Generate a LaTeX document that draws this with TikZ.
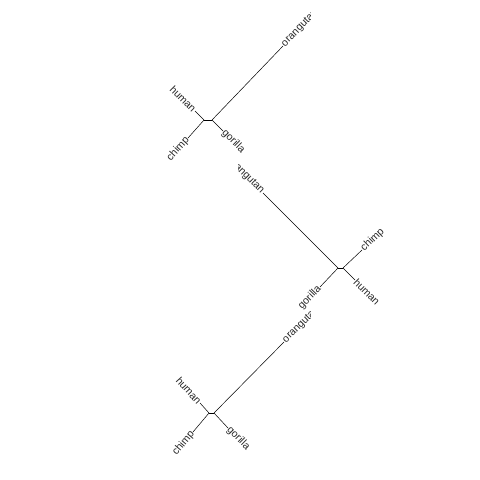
\documentclass[tikz,border=0pt]{standalone}
\usepackage{fontspec}
\setmainfont{Liberation Sans}

\begin{document}
\begin{tikzpicture}[x=1bp,y=-1bp,line width=0.5bp]
\tikzstyle{tiplabel}=[inner sep=0.5bp,font=\fontsize{10.5}{12}\selectfont,text=black!85]
\useasboundingbox (0,0) rectangle (480,480);

% first tree
\coordinate (a1) at (204,120);
\coordinate (b1) at (212,120);
\coordinate (hu1) at (195,111);
\coordinate (ch1) at (188,138);
\coordinate (go1) at (223,131);
\coordinate (or1) at (283,46);
\node[tiplabel, rotate=-45, anchor=east] (lhu1) at (hu1) {human};
\node[tiplabel, rotate=48, anchor=east] (lch1) at (ch1) {chimp};
\node[tiplabel, rotate=-45, anchor=west] (lgo1) at (go1) {gorilla};
\begin{scope}
\clip (0,0) rectangle (310,480);
\node[tiplabel, rotate=46, anchor=west] (lor1) at (or1) {orangutan};
\end{scope}
\path[draw] (a1) edge (b1);
\path[draw] (a1) edge (hu1);
\path[draw] (a1) edge (ch1);
\path[draw] (b1) edge (go1);
\path[draw] (b1) edge (or1);

% second tree
\coordinate (a2) at (338,268);
\coordinate (b2) at (343,268);
\coordinate (or2) at (263,193);
\coordinate (go2) at (320,287);
\coordinate (ch2) at (362,250);
\coordinate (hu2) at (355,280);
\begin{scope}
\clip (238,0) rectangle (480,480);
\node[tiplabel, rotate=-45, anchor=east] (lor2) at (or2) {orangutan};
\end{scope}
\node[tiplabel, rotate=46, anchor=east] (lgo2) at (go2) {gorilla};
\node[tiplabel, rotate=44, anchor=west] (lch2) at (ch2) {chimp};
\node[tiplabel, rotate=-45, anchor=west] (lhu2) at (hu2) {human};
\path[draw] (a2) edge (b2);
\path[draw] (a2) edge (or2);
\path[draw] (a2) edge (go2);
\path[draw] (b2) edge (ch2);
\path[draw] (b2) edge (hu2);

% third tree
\coordinate (a3) at (209,413);
\coordinate (b3) at (214,413);
\coordinate (hu3) at (200,403);
\coordinate (ch3) at (193,432);
\coordinate (go3) at (228,428);
\coordinate (or3) at (284,342);
\node[tiplabel, rotate=-48, anchor=east] (lhu3) at (hu3) {human};
\node[tiplabel, rotate=50, anchor=east] (lch3) at (ch3) {chimp};
\node[tiplabel, rotate=-45, anchor=west] (lgo3) at (go3) {gorilla};
\begin{scope}
\clip (0,0) rectangle (310,480);
\node[tiplabel, rotate=45, anchor=west] (lor3) at (or3) {orangutan};
\end{scope}
\path[draw] (a3) edge (b3);
\path[draw] (a3) edge (hu3);
\path[draw] (a3) edge (ch3);
\path[draw] (b3) edge (go3);
\path[draw] (b3) edge (or3);
\end{tikzpicture}
\end{document}
